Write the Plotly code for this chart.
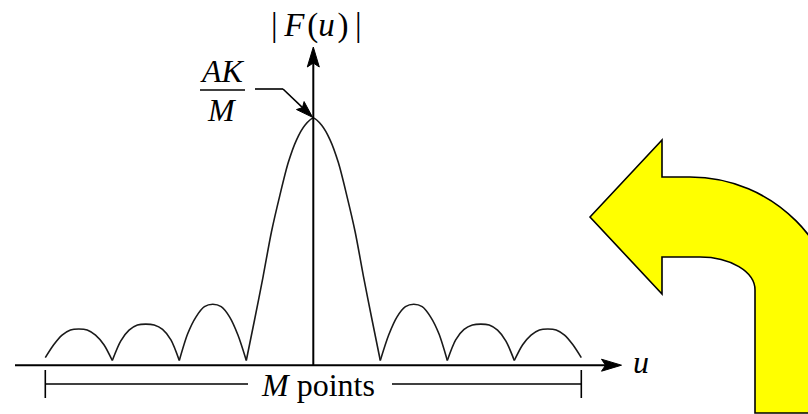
import plotly.graph_objects as go

# |F(u)| sampled every 1/8 of a lobe; the M points span u = -4 .. 4
u = [
    -4.0, -3.875, -3.75, -3.625, -3.5, -3.375, -3.25, -3.125,
    -3.0, -2.875, -2.75, -2.625, -2.5, -2.375, -2.25, -2.125,
    -2.0, -1.875, -1.75, -1.625, -1.5, -1.375, -1.25, -1.125,
    -1.0, -0.875, -0.75, -0.625, -0.5, -0.375, -0.25, -0.125,
    0.0,
    0.125, 0.25, 0.375, 0.5, 0.625, 0.75, 0.875, 1.0,
    1.125, 1.25, 1.375, 1.5, 1.625, 1.75, 1.875, 2.0,
    2.125, 2.25, 2.375, 2.5, 2.625, 2.75, 2.875, 3.0,
    3.125, 3.25, 3.375, 3.5, 3.625, 3.75, 3.875, 4.0,
]
F = [
    0.012, 0.065, 0.105, 0.126, 0.13, 0.126, 0.105, 0.065,
    0.0, 0.08, 0.125, 0.146, 0.15, 0.146, 0.128, 0.085,
    0.0, 0.11, 0.18, 0.222, 0.232, 0.222, 0.18, 0.105,
    0.0, 0.17, 0.345, 0.53, 0.68, 0.815, 0.91, 0.97,
    1.0,
    0.97, 0.91, 0.815, 0.68, 0.53, 0.345, 0.17, 0.0,
    0.105, 0.18, 0.222, 0.232, 0.222, 0.18, 0.11, 0.0,
    0.085, 0.128, 0.146, 0.15, 0.146, 0.125, 0.08, 0.0,
    0.065, 0.105, 0.126, 0.13, 0.126, 0.105, 0.065, 0.012,
]

# text
Y_LABEL = "|\u2009<i>F</i>\u200a(<i>u</i>\u200a)\u2009|"
X_LABEL = "<i>u</i>"
PEAK_NUM = "<i>AK</i>"
PEAK_DEN = "<i>M</i>"
SPAN_LABEL = "<i>M</i> points"
SPAN_LO, SPAN_HI = -4.0, 4.0

W, H = 808, 414
U0_PX, PX_PER_U = 313.3, 67.0
F0_PX, PX_PER_F = 360.5, 242.5


def to_u(px):
    return (px - U0_PX) / PX_PER_U


def to_f(py):
    return (F0_PX - py) / PX_PER_F


def u_px(v):
    return U0_PX + v * PX_PER_U


def f_px(v):
    return F0_PX - v * PX_PER_F


FONT = dict(family="Liberation Serif", size=32, color="black")
INK = "black"

fig = go.Figure()

# each lobe is a separate smooth piece so the zeros stay sharp cusps
start = 0
for i in range(1, len(u)):
    if F[i] == 0.0 or i == len(u) - 1:
        fig.add_trace(go.Scatter(
            x=u[start:i + 1], y=F[start:i + 1], mode="lines",
            line=dict(color="#1a1a1a", width=1.6, shape="spline", smoothing=0.8),
            hoverinfo="skip", showlegend=False,
        ))
        start = i

shapes = []


def arrowhead(tx, ty, dx, dy, length, half, notch):
    bx, by = tx - dx * length, ty - dy * length
    nx, ny = -dy, dx
    pts = [
        (tx, ty),
        (bx + nx * half, by + ny * half),
        (tx - dx * (length - notch), ty - dy * (length - notch)),
        (bx - nx * half, by - ny * half),
    ]
    path = "M" + "L".join(f"{to_u(x):.4f},{to_f(y):.4f}" for x, y in pts) + "Z"
    return dict(type="path", path=path, xref="x", yref="y",
                fillcolor=INK, line=dict(color=INK, width=1))


def seg(x0, y0, x1, y1, width=2):
    return dict(type="line", xref="x", yref="y", x0=x0, y0=y0, x1=x1, y1=y1,
                line=dict(color=INK, width=width))


# axes
base_f = to_f(365.2)
shapes.append(seg(to_u(15), base_f, to_u(606), base_f))
shapes.append(arrowhead(621.5, 365.2, 1, 0, 20, 6, 4))
shapes.append(seg(0, base_f, 0, to_f(62)))
shapes.append(arrowhead(U0_PX, 47, 0, -1, 20, 6, 4))

# pointer to the peak value
peak_px, peak_py = u_px(0), f_px(1.0)
elbow = (283, 89)
ddx, ddy = peak_px - elbow[0], peak_py - elbow[1]
n = (ddx ** 2 + ddy ** 2) ** 0.5
ux, uy = ddx / n, ddy / n
shapes.append(seg(to_u(255), to_f(89), to_u(elbow[0]), to_f(89), 1.6))
shapes.append(seg(to_u(elbow[0]), to_f(89),
                  to_u(peak_px - ux * 12), to_f(peak_py - uy * 12), 1.6))
shapes.append(arrowhead(peak_px - ux * 1, peak_py - uy * 1, ux, uy, 17, 5.5, 3))
# fraction bar
shapes.append(seg(to_u(200), to_f(90), to_u(245), to_f(90), 1.6))

# span bracket
br_f = to_f(384)
shapes.append(seg(SPAN_LO, br_f, to_u(248), br_f, 1.6))
shapes.append(seg(to_u(392), br_f, SPAN_HI, br_f, 1.6))
shapes.append(seg(SPAN_LO, to_f(370), SPAN_LO, to_f(398), 1.6))
shapes.append(seg(SPAN_HI, to_f(370), SPAN_HI, to_f(398), 1.6))

# big yellow bent arrow
k = 0.5523
outline = [
    ("M", [(590, 217)]),
    ("L", [(662, 140)]),
    ("L", [(662, 177)]),
    ("L", [(690, 177)]),
    ("C", [(690 + k * 150, 177), (840, 327 - k * 150), (840, 327)]),
    ("L", [(840, 413)]),
    ("L", [(755, 413)]),
    ("L", [(755, 290)]),
    ("C", [(755, 290 - k * 33), (700 + k * 55, 257), (700, 257)]),
    ("L", [(662, 257)]),
    ("L", [(662, 294)]),
]
path = ""
for cmd, pts in outline:
    path += cmd + " ".join(f"{x / W:.5f},{1 - y / H:.5f}" for x, y in pts)
path += "Z"
shapes.append(dict(type="path", path=path, xref="paper", yref="paper",
                   fillcolor="#FFFF00", line=dict(color=INK, width=1.6)))

annotations = [
    dict(x=to_u(316), y=to_f(25), text=Y_LABEL, font=dict(FONT, size=33)),
    dict(x=to_u(641), y=to_f(362), text=X_LABEL),
    dict(x=to_u(222), y=to_f(71), text=PEAK_NUM),
    dict(x=to_u(222), y=to_f(110), text=PEAK_DEN),
    dict(x=to_u(318), y=to_f(385), text=SPAN_LABEL),
]
for a in annotations:
    a.setdefault("font", FONT)
    a.update(xref="x", yref="y", showarrow=False,
             xanchor="center", yanchor="middle")

fig.update_layout(
    width=W, height=H, autosize=False,
    margin=dict(l=0, r=0, t=0, b=0, pad=0),
    paper_bgcolor="white", plot_bgcolor="white",
    xaxis=dict(range=[to_u(0), to_u(W)], visible=False, fixedrange=True),
    yaxis=dict(range=[to_f(H), to_f(0)], visible=False, fixedrange=True),
    shapes=shapes, annotations=annotations, showlegend=False,
)

fig.write_html("out.html", config=dict(displayModeBar=False, staticPlot=True))
